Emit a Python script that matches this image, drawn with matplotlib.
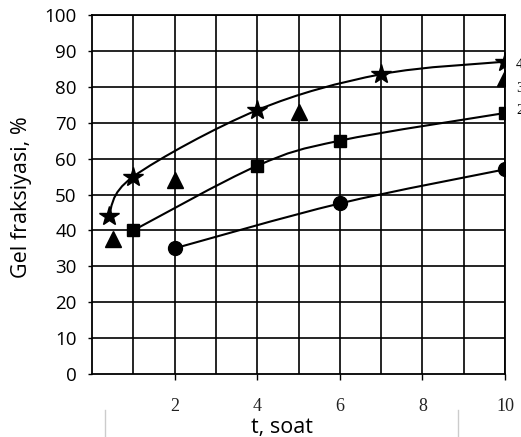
import matplotlib
matplotlib.use('Agg')
import matplotlib.pyplot as plt
import numpy as np
from matplotlib.path import Path
from matplotlib.patches import PathPatch
from matplotlib.lines import Line2D

# Gel fraksiyasi (%) vs t (soat), curves 1..4
t_star = [0.4, 1, 4, 7, 10]
gel_star = [44, 55, 73.5, 83.5, 87]

t_tri = [0.5, 2, 5, 10]
gel_tri = [37.5, 54, 73, 82.5]

t_sq = [1, 4, 6, 10]
gel_sq = [40, 58, 65, 72.7]

t_circ = [2, 6, 10]
gel_circ = [35, 47.5, 57]

y_ticks = [0, 10, 20, 30, 40, 50, 60, 70, 80, 90, 100]
x_ticks = [2, 4, 6, 8, 10]
curve_labels = ['4', '3', '2']


def smooth_path(ax, xs, ys):
    """Catmull-Rom curve through the points, drawn as a bezier path"""
    pts = np.column_stack([xs, ys]).astype(float)
    n = len(pts)
    verts = [pts[0]]
    codes = [Path.MOVETO]
    for i in range(n - 1):
        p0 = pts[i - 1] if i > 0 else pts[i]
        p1 = pts[i]
        p2 = pts[i + 1]
        p3 = pts[i + 2] if i + 2 < n else pts[i + 1]
        c1 = p1 + (p2 - p0) / 6.0
        c2 = p2 - (p3 - p1) / 6.0
        verts += [c1, c2, p2]
        codes += [Path.CURVE4] * 3
    ax.add_patch(PathPatch(Path(verts, codes), facecolor='none',
                           edgecolor='black', linewidth=1.5, zorder=3))


fig = plt.figure(figsize=(5.21, 4.37), dpi=100)
W, H = 521, 437
ax = fig.add_axes([92 / W, 1 - 374 / H, (505 - 92) / W, (374 - 15) / H])

ax.set_xlim(0, 10)
ax.set_ylim(0, 100)

# grid
for v in range(1, 11):
    ax.axvline(v, color='black', linewidth=1.2, zorder=1)
for v in y_ticks[1:]:
    ax.axhline(v, color='black', linewidth=1.2, zorder=1)
for s in ax.spines.values():
    s.set_linewidth(1.3)

smooth_path(ax, t_star, gel_star)
smooth_path(ax, t_sq, gel_sq)
smooth_path(ax, t_circ, gel_circ)

ax.plot(t_star, gel_star, linestyle='none', marker='*', markersize=15,
        color='black', zorder=4)
ax.plot(t_tri, gel_tri, linestyle='none', marker='^', markersize=11,
        color='black', zorder=4)
ax.plot(t_sq, gel_sq, linestyle='none', marker='s', markersize=9,
        color='black', zorder=4)
ax.plot(t_circ, gel_circ, linestyle='none', marker='o', markersize=10,
        color='black', zorder=4)

ax.set_yticks(y_ticks)
ax.set_yticklabels([str(v) for v in y_ticks], fontsize=13.5,
                   family='Open Sans')
ax.tick_params(axis='y', length=3, width=1, pad=8)

ax.set_xticks(x_ticks)
ax.set_xticklabels([str(v) for v in x_ticks], fontsize=13,
                   family='Liberation Serif', color='#222222')
ax.tick_params(axis='x', length=4, width=1, pad=13)

fig.text(22 / W, 1 - 197 / H, 'Gel fraksiyasi, %', rotation=90,
         ha='center', va='center', fontsize=15.5, family='Open Sans')
fig.text(282 / W, 1 - 427 / H, 't, soat', ha='center', va='center',
         fontsize=15.5, family='Open Sans')

# curve numbers, cut off by the right edge
for lab, yp in zip(curve_labels, [64, 88, 110]):
    fig.text(516 / W, 1 - yp / H, lab, ha='left', va='center',
             fontsize=11, family='Liberation Serif')

# thin table-cell lines under the axis
for xp in [105, 458]:
    fig.add_artist(Line2D([xp / W, xp / W], [0, 1 - 410 / H],
                          color='#cccccc', linewidth=1))

fig.savefig('out.png', dpi=100)
